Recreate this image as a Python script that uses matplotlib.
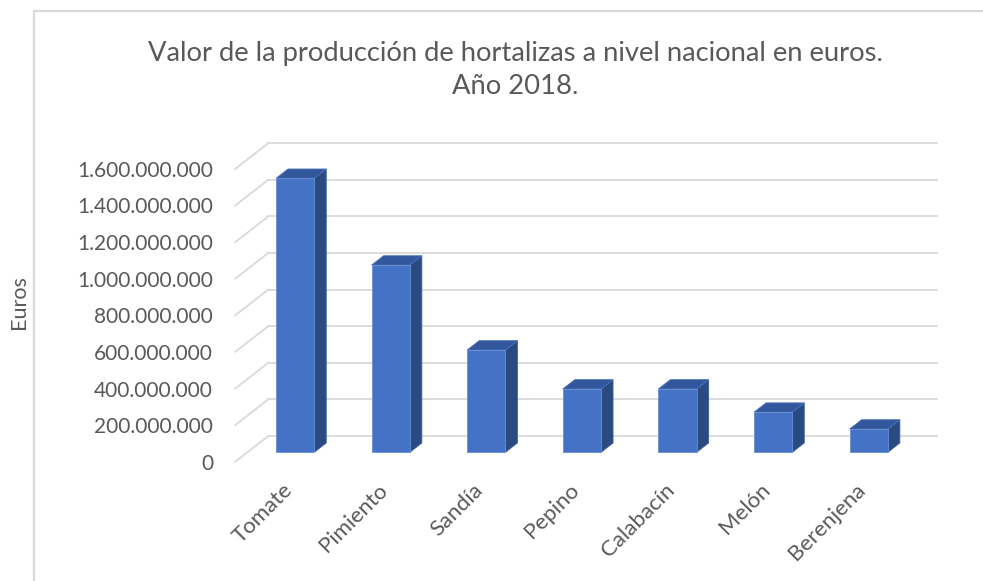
import numpy as np
import matplotlib.pyplot as plt
from matplotlib.lines import Line2D
from matplotlib.patches import Polygon
from matplotlib.ticker import FuncFormatter
import matplotlib.transforms as mtransforms

plt.rcParams['font.family'] = ['Lato', 'DejaVu Sans']

categorias = ['Tomate', 'Pimiento', 'Sandía', 'Pepino', 'Calabacín', 'Melón', 'Berenjena']
valores = [1497000000, 1023000000, 559000000, 346000000, 346000000, 219000000, 127000000]
ticks_y = [0, 200000000, 400000000, 600000000, 800000000,
           1000000000, 1200000000, 1400000000, 1600000000]

titulo = 'Valor de la producción de hortalizas a nivel nacional en euros.\nAño 2018.'
gris_texto = '#595959'
gris_linea = '#d9d9d9'

# profundidad de la vista oblicua (en unidades de datos)
DX = 0.345          # categorias
DY = 140.4e6        # euros
prof_ini, prof_fin = 0.366, 0.73
ancho = 0.40

fig = plt.figure(figsize=(9.83, 5.81), dpi=100)
ax = fig.add_axes([0.2393, 0.2053, 0.6808, 0.5040])
ax.set_xlim(-0.5, len(categorias) - 0.5)
ax.set_ylim(0, ticks_y[-1])
ax.patch.set_alpha(0)
for s in ax.spines.values():
    s.set_visible(False)

# pared del fondo y pared izquierda
x_izq = -0.5
x_der = len(categorias) - 0.5
for t in ticks_y:
    ax.add_line(Line2D([x_izq + DX, x_der + DX], [t + DY, t + DY],
                       color=gris_linea, lw=1.3, clip_on=False, zorder=1))
    ax.add_line(Line2D([x_izq, x_izq + DX], [t, t + DY],
                       color=gris_linea, lw=1.3, clip_on=False, zorder=1))

# barras 3D: cara frontal, superior y lateral
for i, v in enumerate(valores):
    xl = i - ancho / 2 + prof_ini * DX
    xr = i + ancho / 2 + prof_ini * DX
    y0 = prof_ini * DY
    ddx = (prof_fin - prof_ini) * DX
    ddy = (prof_fin - prof_ini) * DY
    frente = [(xl, y0), (xr, y0), (xr, y0 + v), (xl, y0 + v)]
    arriba = [(xl, y0 + v), (xr, y0 + v), (xr + ddx, y0 + v + ddy), (xl + ddx, y0 + v + ddy)]
    lado = [(xr, y0), (xr + ddx, y0 + ddy), (xr + ddx, y0 + v + ddy), (xr, y0 + v)]
    ax.add_patch(Polygon(lado, closed=True, fc='#2a4a82', ec='#3b5f9e', lw=0.6,
                         clip_on=False, zorder=3))
    ax.add_patch(Polygon(arriba, closed=True, fc='#32579c', ec='#4a72b8', lw=0.6,
                         clip_on=False, zorder=3))
    ax.add_patch(Polygon(frente, closed=True, fc='#4472c4', ec='#6a8fd4', lw=0.6,
                         clip_on=False, zorder=3))

# ejes
ax.set_yticks(ticks_y)
ax.yaxis.set_major_formatter(FuncFormatter(lambda v, p: f'{int(v):,}'.replace(',', '.')))
ax.tick_params(axis='y', length=0, pad=16, labelsize=15, labelcolor=gris_texto)

ax.set_xticks(range(len(categorias)))
ax.set_xticklabels(categorias)
ax.tick_params(axis='x', length=0, pad=0, labelsize=16, labelcolor=gris_texto)
desplaza = mtransforms.ScaledTranslation(6 / 100, -25 / 100, fig.dpi_scale_trans)
for lab in ax.get_xticklabels():
    lab.set_rotation(45)
    lab.set_rotation_mode('anchor')
    lab.set_ha('right')
    lab.set_va('center')
    lab.set_transform(ax.get_xaxis_transform() + desplaza)

fig.text(19 / 983, 1 - 302 / 581, 'Euros', rotation=90, ha='center', va='center',
         fontsize=15.5, color=gris_texto)
fig.text(515 / 983, 1 - 70 / 581, titulo, ha='center', va='center',
         fontsize=19.7, color=gris_texto, linespacing=1.4)

# marco del grafico
fig.add_artist(Line2D([34 / 983, 34 / 983, 1.0], [0.0, 1 - 11 / 581, 1 - 11 / 581],
                      transform=fig.transFigure, color=gris_linea, lw=1.6))

fig.savefig('out.png', dpi=100)
